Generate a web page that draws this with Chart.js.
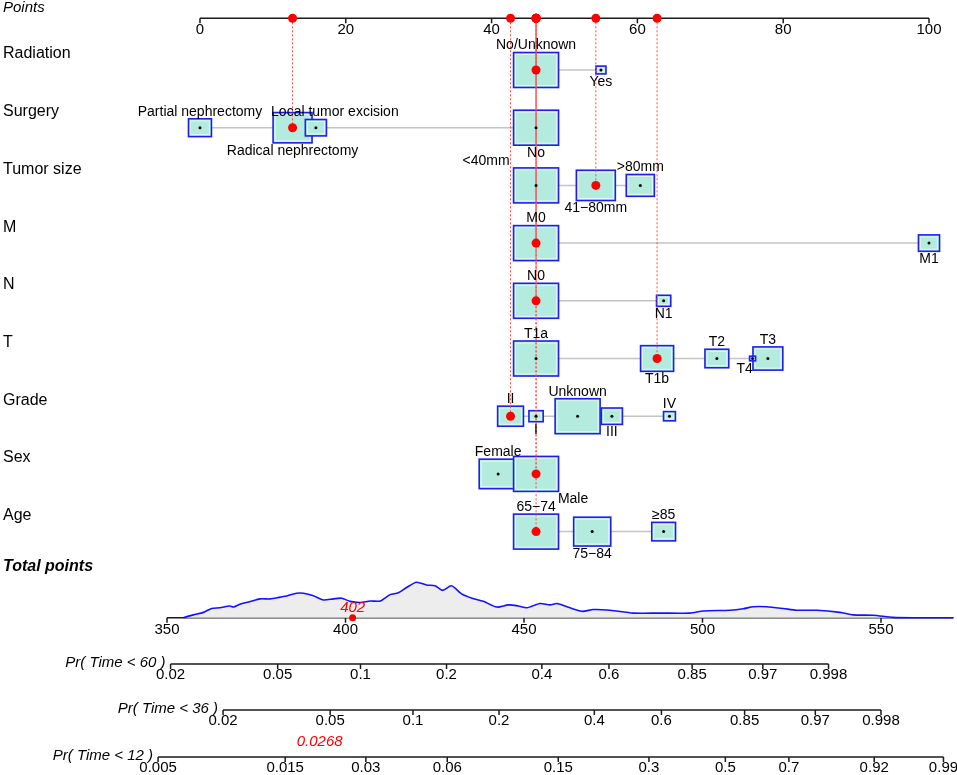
<!DOCTYPE html>
<html>
<head>
<meta charset="utf-8">
<script src="https://cdn.jsdelivr.net/npm/chart.js@4.4.1/dist/chart.umd.min.js"></script>
<style>
  html, body { margin: 0; padding: 0; background: #fff; }
  #wrap { width: 957px; height: 775px; position: relative; }
</style>
</head>
<body>
<div id="wrap"><canvas id="nomo"></canvas></div>
<script>
// values (points scale 0-100)
const variables = ['Radiation', 'Surgery', 'Tumor size', 'M', 'N', 'T', 'Grade', 'Sex', 'Age'];

const radiationLevels = ['No/Unknown', 'Yes'];
const radiationPoints = [46.1, 55.0];
const radiationFreq = [1, 0.05];

const surgeryLevels = ['Partial nephrectomy', 'Radical nephrectomy', 'Local tumor excision', 'No'];
const surgeryPoints = [0, 12.7, 15.9, 46.1];
const surgeryFreq = [0.26, 0.75, 0.22, 1];

const tumorLevels = ['<40mm', '41\u221280mm', '>80mm'];
const tumorPoints = [46.1, 54.3, 60.4];
const tumorFreq = [1, 0.75, 0.39];

const mLevels = ['M0', 'M1'];
const mPoints = [46.1, 100];
const mFreq = [1, 0.22];

const nLevels = ['N0', 'N1'];
const nPoints = [46.1, 63.6];
const nFreq = [1, 0.1];

const tLevels = ['T1a', 'T1b', 'T2', 'T3', 'T4'];
const tPoints = [46.1, 62.7, 70.9, 77.9, 75.8];
const tFreq = [1, 0.54, 0.28, 0.44, 0.018];

const gradeLevels = ['I', 'II', 'III', 'IV', 'Unknown'];
const gradePoints = [46.1, 42.6, 56.5, 64.4, 51.8];
const gradeFreq = [0.1, 0.33, 0.22, 0.07, 1];

const sexLevels = ['Female', 'Male'];
const sexPoints = [40.9, 46.1];
const sexFreq = [0.71, 1];

const ageLevels = ['65\u221274', '75\u221284', '\u226585'];
const agePoints = [46.1, 53.8, 63.6];
const ageFreq = [1, 0.68, 0.28];

const selectedLevels = ['No/Unknown', 'Radical nephrectomy', '41\u221280mm', 'M0', 'N0', 'T1b', 'II', 'Male', '65\u221274'];

const pointTicks = [0, 20, 40, 60, 80, 100];
const totalTicks = [350, 400, 450, 500, 550];
const totalScore = 402;

const densityTotals = [354.6, 357.4, 360.2, 362.5, 364.8, 367.6, 368.6, 370.4, 373.2, 376.1, 378.9, 381.7, 383.5, 386.3, 388.2,
  391.0, 393.8, 396.6, 398.9, 401.3, 404.1, 406.9, 409.7, 412.5, 414.8, 417.1, 419.9, 422.7, 425.1, 427.2, 429.7, 432.5,
  435.4, 438.6, 442.4, 445.6, 448.4, 450.8, 454.5, 457.3, 459.2, 461.5, 466.2, 469.4, 474.1, 480.6, 488.1, 496.5, 500.2,
  507.7, 511.4, 514.2, 518.0, 522.6, 526.4, 532.0, 538.5, 542.2, 547.8, 553.4, 560.0, 570.3];
const densityValues = [0, 0.08, 0.15, 0.26, 0.28, 0.33, 0.30, 0.38, 0.45, 0.53, 0.53, 0.58, 0.61, 0.69, 0.69,
  0.62, 0.50, 0.53, 0.55, 0.46, 0.43, 0.47, 0.47, 0.65, 0.70, 0.85, 1.00, 0.92, 0.90, 0.77, 0.90, 0.67,
  0.55, 0.46, 0.30, 0.36, 0.33, 0.28, 0.40, 0.36, 0.40, 0.33, 0.18, 0.23, 0.21, 0.13, 0.13, 0.13, 0.19,
  0.21, 0.25, 0.31, 0.31, 0.26, 0.21, 0.21, 0.15, 0.08, 0.07, 0.01, 0, 0];

const pr60Labels = ['0.02', '0.05', '0.1', '0.2', '0.4', '0.6', '0.85', '0.97', '0.998'];
const pr60At = [351.0, 381.0, 404.2, 428.3, 455.0, 473.8, 497.1, 516.9, 535.3];
const pr36Labels = ['0.02', '0.05', '0.1', '0.2', '0.4', '0.6', '0.85', '0.97', '0.998'];
const pr36At = [365.7, 395.7, 418.9, 443.0, 469.7, 488.5, 511.8, 531.6, 550.0];
const pr12Labels = ['0.005', '0.015', '0.03', '0.06', '0.15', '0.3', '0.5', '0.7', '0.92', '0.99'];
const pr12At = [347.5, 383.1, 405.7, 428.5, 459.6, 485.0, 506.4, 524.2, 548.1, 567.5];
const pr12Result = '0.0268';

// ---- build rows ----
const levelLists = [radiationLevels, surgeryLevels, tumorLevels, mLevels, nLevels, tLevels, gradeLevels, sexLevels, ageLevels];
const pointLists = [radiationPoints, surgeryPoints, tumorPoints, mPoints, nPoints, tPoints, gradePoints, sexPoints, agePoints];
const freqLists = [radiationFreq, surgeryFreq, tumorFreq, mFreq, nFreq, tFreq, gradeFreq, sexFreq, ageFreq];

const rows = variables.map((name, i) => {
  const pick = levelLists[i].indexOf(selectedLevels[i]);
  return { name, row: i + 1, levels: levelLists[i], points: pointLists[i], freq: freqLists[i], pickPoints: pointLists[i][pick] };
});

const probAxes = [
  { title: 'Pr( Time < 60 )', labels: pr60Labels, at: pr60At, row: 11.295 },
  { title: 'Pr( Time < 36 )', labels: pr36Labels, at: pr36At, row: 12.092 },
  { title: 'Pr( Time < 12 )', labels: pr12Labels, at: pr12At, row: 12.906 }
];

// layout bits
const FONT = '"Liberation Sans", Arial, sans-serif';
const POINTS_ROW = 0.104;
const labelBelow = ['Yes', 'Radical nephrectomy', 'No', '41\u221280mm', 'M1', 'N1', 'T1b', 'T4', 'I', 'III', 'Male', '75\u221284'];
const labelShift = { 'Local tumor excision': 19, '<40mm': -50, 'T4': -8, 'Male': 37 };
const dashShift = [1, 0, 0, 2, 2, 0, 0, 0, 0];

function boxSize(f) {
  return { w: 45 * Math.sqrt(f), h: 35 * Math.sqrt(f) };
}

function axisLine(ctx, x0, x1, y) {
  ctx.strokeStyle = '#1a1a1a';
  ctx.lineWidth = 1.5;
  ctx.setLineDash([]);
  ctx.beginPath();
  ctx.moveTo(x0, y);
  ctx.lineTo(x1, y);
  ctx.stroke();
}

function tick(ctx, x, y) {
  ctx.beginPath();
  ctx.moveTo(x, y);
  ctx.lineTo(x, y + 5);
  ctx.stroke();
}

const nomoPlugin = {
  id: 'nomo',
  beforeDatasetsDraw(chart) {
    const { ctx } = chart;
    const { x, xt, y, yd } = chart.scales;
    ctx.save();

    // points axis
    const py = y.getPixelForValue(POINTS_ROW);
    axisLine(ctx, x.getPixelForValue(0), x.getPixelForValue(100), py);
    pointTicks.forEach(t => tick(ctx, x.getPixelForValue(t), py));

    // total points axis
    const ty = yd.getPixelForValue(0);
    axisLine(ctx, xt.getPixelForValue(totalTicks[0]), xt.getPixelForValue(570.3), ty);
    totalTicks.forEach(t => tick(ctx, xt.getPixelForValue(t), ty));

    // probability axes
    probAxes.forEach(a => {
      const ay = y.getPixelForValue(a.row);
      axisLine(ctx, xt.getPixelForValue(a.at[0]), xt.getPixelForValue(a.at[a.at.length - 1]), ay);
      a.at.forEach(t => tick(ctx, xt.getPixelForValue(t), ay));
    });

    // rows: grey range line then boxes
    rows.forEach(r => {
      const cy = y.getPixelForValue(r.row);
      ctx.strokeStyle = '#c4c4c4';
      ctx.lineWidth = 1.5;
      ctx.beginPath();
      ctx.moveTo(x.getPixelForValue(Math.min(...r.points)), cy);
      ctx.lineTo(x.getPixelForValue(Math.max(...r.points)), cy);
      ctx.stroke();

      r.levels.forEach((lv, j) => {
        const cx = x.getPixelForValue(r.points[j]);
        const s = boxSize(r.freq[j]);
        ctx.fillStyle = '#b3ebdf';
        ctx.fillRect(cx - s.w / 2, cy - s.h / 2, s.w, s.h);
        if (s.w > 8) {
          ctx.strokeStyle = '#e4f8f3';
          ctx.lineWidth = 1;
          ctx.strokeRect(cx - s.w / 2 + 2, cy - s.h / 2 + 2, s.w - 4, s.h - 4);
        }
        ctx.strokeStyle = '#1e1ef0';
        ctx.lineWidth = 1.6;
        ctx.strokeRect(cx - s.w / 2, cy - s.h / 2, s.w, s.h);
      });
    });

    // red dotted drop lines from the points axis
    rows.forEach((r, i) => {
      const px = x.getPixelForValue(r.pickPoints);
      ctx.strokeStyle = '#ff4a4a';
      ctx.lineWidth = 1;
      ctx.setLineDash([2, 2]);
      ctx.lineDashOffset = dashShift[i];
      ctx.beginPath();
      ctx.moveTo(px, py);
      ctx.lineTo(px, y.getPixelForValue(r.row));
      ctx.stroke();
    });
    ctx.restore();
  },
  afterDatasetsDraw(chart) {
    const { ctx } = chart;
    const { x, xt, y, yd } = chart.scales;
    ctx.save();
    ctx.fillStyle = '#000';
    ctx.textBaseline = 'middle';

    // titles
    ctx.textAlign = 'left';
    ctx.font = 'italic 15px ' + FONT;
    ctx.fillText('Points', 3, 8);
    ctx.font = 'bold italic 16px ' + FONT;
    ctx.fillText('Total points', 3, 567);

    // points axis labels
    const py = y.getPixelForValue(POINTS_ROW);
    ctx.font = '15px ' + FONT;
    ctx.textAlign = 'center';
    pointTicks.forEach(t => ctx.fillText(String(t), x.getPixelForValue(t), py + 12));

    // variable names and level labels
    rows.forEach(r => {
      const cy = y.getPixelForValue(r.row);
      ctx.textAlign = 'left';
      ctx.font = '16px ' + FONT;
      ctx.fillText(r.name, 3, cy - 16);
      ctx.textAlign = 'center';
      ctx.font = '14px ' + FONT;
      r.levels.forEach((lv, j) => {
        const s = boxSize(r.freq[j]);
        const below = labelBelow.includes(lv);
        const ly = below ? cy + s.h / 2 + 8 : cy - s.h / 2 - 7;
        ctx.fillText(lv, x.getPixelForValue(r.points[j]) + (labelShift[lv] || 0), ly);
      });
    });

    // total points labels
    const ty = yd.getPixelForValue(0);
    ctx.font = '15px ' + FONT;
    totalTicks.forEach(t => ctx.fillText(String(t), xt.getPixelForValue(t), ty + 12));
    ctx.fillStyle = '#ff0000';
    ctx.font = 'italic 15px ' + FONT;
    ctx.fillText(String(totalScore), xt.getPixelForValue(totalScore), ty - 10);

    // probability axes
    probAxes.forEach((a, k) => {
      const ay = y.getPixelForValue(a.row);
      ctx.fillStyle = '#000';
      ctx.font = 'italic 15px ' + FONT;
      ctx.textAlign = 'right';
      ctx.fillText(a.title, xt.getPixelForValue(a.at[0]) - 5, ay - 1);
      ctx.textAlign = 'center';
      ctx.font = '15px ' + FONT;
      a.labels.forEach((lb, j) => ctx.fillText(lb, xt.getPixelForValue(a.at[j]), ay + 11));
      if (k === 2) {
        ctx.fillStyle = '#ff0000';
        ctx.font = 'italic 15px ' + FONT;
        ctx.textAlign = 'right';
        ctx.fillText(pr12Result, xt.getPixelForValue(totalScore) - 10, ay - 15);
      }
    });
    ctx.restore();
  }
};

const centerDots = [];
rows.forEach(r => r.levels.forEach((lv, j) => centerDots.push({ x: r.points[j], y: r.row })));
const pickDots = rows.map(r => ({ x: r.pickPoints, y: r.row }));
const axisDots = rows.map(r => ({ x: r.pickPoints, y: POINTS_ROW }));

new Chart(document.getElementById('nomo'), {
  type: 'scatter',
  data: {
    datasets: [
      {
        type: 'line',
        data: densityTotals.map((t, i) => ({ x: t, y: densityValues[i] })),
        xAxisID: 'xt', yAxisID: 'yd',
        borderColor: '#1212ff', borderWidth: 1.6,
        backgroundColor: '#ededed', fill: 'origin',
        pointRadius: 0, tension: 0.25, order: 10
      },
      {
        data: centerDots, xAxisID: 'x', yAxisID: 'y',
        pointRadius: 1.5, backgroundColor: '#000', borderWidth: 0, order: 5
      },
      {
        data: pickDots.concat(axisDots), xAxisID: 'x', yAxisID: 'y',
        pointRadius: 4.5, backgroundColor: '#ff0000', borderWidth: 0, order: 1
      },
      {
        data: [{ x: totalScore, y: 0 }], xAxisID: 'xt', yAxisID: 'yd',
        pointRadius: 3.5, backgroundColor: '#ff0000', borderWidth: 0, order: 0
      }
    ]
  },
  options: {
    responsive: true,
    maintainAspectRatio: false,
    animation: false,
    layout: { autoPadding: false, padding: 0 },
    plugins: { legend: { display: false }, tooltip: { enabled: false } },
    scales: {
      x: { type: 'linear', axis: 'x', display: false, min: -27.43, max: 103.84 },
      xt: { type: 'linear', axis: 'x', display: false, min: 303.22, max: 571.29 },
      y: { type: 'linear', axis: 'y', display: false, reverse: true, min: -0.2132, max: 13.218 },
      yd: { type: 'linear', axis: 'y', display: false, min: -4.431, max: 17.40 }
    }
  },
  plugins: [nomoPlugin]
});
</script>
</body>
</html>
